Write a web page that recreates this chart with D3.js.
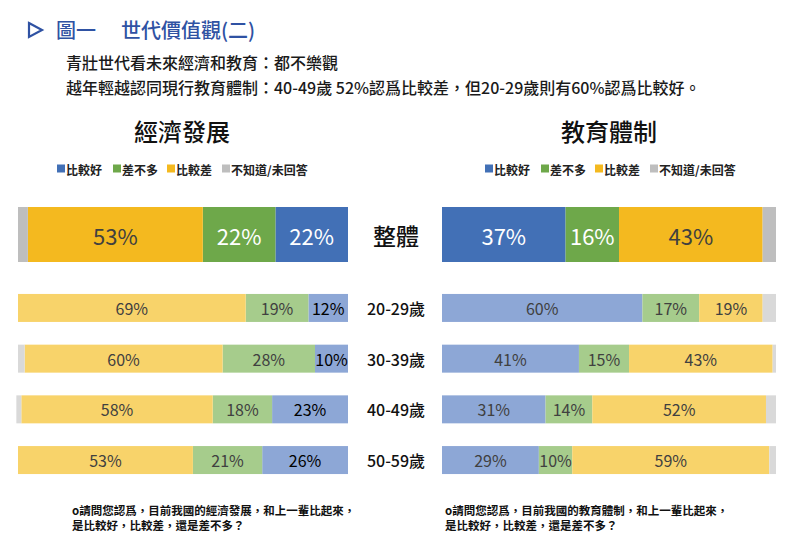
<!DOCTYPE html>
<html>
<head>
  <meta charset="utf-8">
  <title>世代價值觀(二)</title>
  <style>
    html, body {
      margin: 0;
      padding: 0;
      background: #ffffff;
    }
    svg {
      display: block;
      font-family: "Noto Sans CJK TC", "Noto Sans CJK SC", sans-serif;
    }
  </style>
</head>
<body>
  <svg id="chart" width="792" height="555"></svg>

  <script src="https://d3js.org/d3.v7.min.js"></script>
  <script>
    // categories
    const groups = ["整體", "20-29歲", "30-39歲", "40-49歲", "50-59歲"];
    const keys = ["good", "same", "bad", "unknown"];
    const legendLabels = ["比較好", "差不多", "比較差", "不知道/未回答"];

    // 經濟發展 (%)
    const econGood    = [22, 12, 10, 23, 26];
    const econSame    = [22, 19, 28, 18, 21];
    const econBad     = [53, 69, 60, 58, 53];
    const econUnknown = [3, 0, 2, 1.5, 0];

    // 教育體制 (%)
    const eduGood    = [37, 60, 41, 31, 29];
    const eduSame    = [16, 17, 15, 14, 10];
    const eduBad     = [43, 19, 43, 52, 59];
    const eduUnknown = [4, 4, 1, 3, 2];

    const darkColors  = { good: "#4270b6", same: "#6ea84a", bad: "#f4b91f", unknown: "#bebebe" };
    const lightColors = { good: "#8da7d6", same: "#a6cc8c", bad: "#f8d36a", unknown: "#d9d9d9" };

    const svg = d3.select("#chart");

    function rows(good, same, bad, unknown) {
      return groups.map((g, i) => ({ group: g, good: good[i], same: same[i], bad: bad[i], unknown: unknown[i] }));
    }

    // vertical layout: overall bar is tall, age bars share a band scale
    const ages = groups.slice(1);
    const yAge = d3.scaleBand().domain(ages).range([282.6, 485.4]).paddingInner(0.448).paddingOuter(0.224);
    const overallTop = 207, overallH = 55;
    const rowTop = g => g === "整體" ? overallTop : yAge(g);
    const rowH = g => g === "整體" ? overallH : yAge.bandwidth();

    // ---- header ----
    svg.append("path")
      .attr("d", "M29,23 L42,30 L29,37 Z")
      .attr("fill", "none")
      .attr("stroke", "#2f52a3")
      .attr("stroke-width", 2.2)
      .attr("stroke-linejoin", "miter");
    svg.append("text").attr("x", 56).attr("y", 38)
      .attr("font-size", 20).attr("font-weight", 500).attr("fill", "#2f52a3")
      .text("圖一");
    svg.append("text").attr("x", 121).attr("y", 38)
      .attr("font-size", 20).attr("font-weight", 500).attr("fill", "#2f52a3")
      .text("世代價值觀(二)");
    svg.append("text").attr("x", 66).attr("y", 69)
      .attr("font-size", 16).attr("font-weight", 500).attr("fill", "#1a1a1a")
      .text("青壯世代看未來經濟和教育：都不樂觀");
    svg.append("text").attr("x", 66).attr("y", 94)
      .attr("font-size", 16).attr("font-weight", 500).attr("fill", "#1a1a1a")
      .text("越年輕越認同現行教育體制：40-49歲 52%認爲比較差，但20-29歲則有60%認爲比較好。");

    // ---- middle group labels ----
    groups.forEach(g => {
      svg.append("text")
        .attr("x", 396)
        .attr("y", rowTop(g) + rowH(g) / 2)
        .attr("text-anchor", "middle")
        .attr("dominant-baseline", "central")
        .attr("font-size", g === "整體" ? 23 : 16)
        .attr("font-weight", 500)
        .attr("fill", "#111")
        .text(g);
    });

    function drawPanel(opts) {
      const data = rows(...opts.series);
      const stack = d3.stack().keys(keys)(data);
      const x = d3.scaleLinear().domain([0, 100]).range(opts.range);
      const g = svg.append("g");

      // title
      g.append("text")
        .attr("x", opts.titleX).attr("y", 141)
        .attr("text-anchor", "middle")
        .attr("font-size", 24).attr("font-weight", 500).attr("fill", "#111")
        .text(opts.title);

      // legend
      const leg = g.append("g").attr("transform", `translate(${opts.legendX},169)`);
      const legX = [0, 56, 110, 165];
      keys.forEach((k, i) => {
        const item = leg.append("g").attr("transform", `translate(${legX[i]},0)`);
        item.append("rect").attr("x", 0).attr("y", -4.5).attr("width", 8).attr("height", 8)
          .attr("fill", darkColors[k]);
        item.append("text").attr("x", 9).attr("y", 0)
          .attr("dominant-baseline", "central")
          .attr("font-size", 12).attr("font-weight", 700).attr("fill", "#222")
          .text(legendLabels[i]);
      });

      // bars
      stack.forEach(layer => {
        const k = layer.key;
        layer.forEach(d => {
          const grp = d.data.group;
          const overall = grp === "整體";
          const x0 = x(d[0]), x1 = x(d[1]);
          const left = Math.min(x0, x1), w = Math.abs(x1 - x0);
          if (w <= 0) return;
          g.append("rect")
            .attr("x", left).attr("y", rowTop(grp))
            .attr("width", w).attr("height", rowH(grp))
            .attr("fill", overall ? darkColors[k] : lightColors[k]);
          if (k === "unknown") return;
          let fill = "#404040";
          if (overall && k !== "bad") fill = "#ffffff";
          if (!overall && k === "good" && opts.darkGoodText) fill = "#000";
          g.append("text")
            .attr("x", left + w / 2)
            .attr("y", rowTop(grp) + rowH(grp) / 2)
            .attr("text-anchor", "middle")
            .attr("dominant-baseline", "central")
            .attr("font-size", overall ? 22 : 16)
            .attr("font-weight", 400)
            .attr("fill", fill)
            .text(d.data[k] + "%");
        });
      });

      // footnote, one text per line
      opts.note.forEach((line, i) => {
        g.append("text")
          .attr("x", opts.noteX).attr("y", 515 + i * 15)
          .attr("font-size", 11.5).attr("font-weight", 700).attr("fill", "#111")
          .text(line);
      });
    }

    drawPanel({
      title: "經濟發展",
      titleX: 182,
      legendX: 57,
      range: [348, 18],
      series: [econGood, econSame, econBad, econUnknown],
      darkGoodText: true,
      noteX: 72,
      note: ["o請問您認爲，目前我國的經濟發展，和上一輩比起來，", "是比較好，比較差，還是差不多？"]
    });

    drawPanel({
      title: "教育體制",
      titleX: 609,
      legendX: 485,
      range: [442, 776],
      series: [eduGood, eduSame, eduBad, eduUnknown],
      darkGoodText: false,
      noteX: 445,
      note: ["o請問您認爲，目前我國的教育體制，和上一輩比起來，", "是比較好，比較差，還是差不多？"]
    });
  </script>
</body>
</html>
